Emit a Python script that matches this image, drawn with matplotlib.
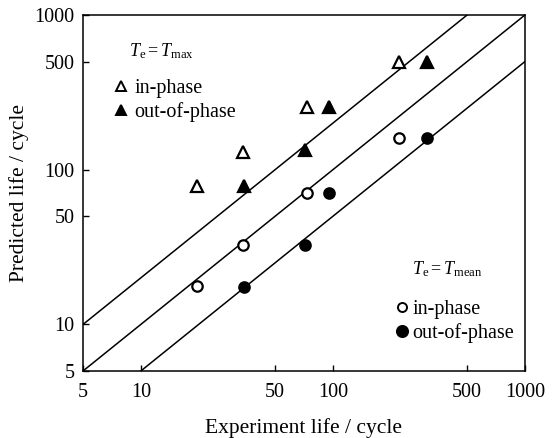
"""
Predicted vs. experiment life (log-log) with factor-of-2 scatter bands.
"""
import numpy as np
import matplotlib
matplotlib.use("Agg")
import matplotlib.pyplot as plt
from matplotlib.lines import Line2D

# experiment lives (x) and predicted lives (y)
exp_in = [19.5, 34, 73, 220]
exp_out = [34.5, 72, 95, 310]
pred_max_in = [79, 130, 255, 497]
pred_max_out = [79, 134, 255, 497]
pred_mean_in = [17.7, 32.6, 70.7, 160]
pred_mean_out = [17.5, 32.6, 70.7, 160]

band_factors = [2.0, 1.0, 0.5]   # y = k * x
axis_lim = [5, 1000]
ticks = [5, 10, 50, 100, 500, 1000]

plt.rcParams["font.family"] = ["Liberation Serif", "DejaVu Serif"]
plt.rcParams["mathtext.fontset"] = "custom"
plt.rcParams["mathtext.rm"] = "Liberation Serif"
plt.rcParams["mathtext.it"] = "Liberation Serif:italic"

fig = plt.figure(figsize=(5.52, 4.38), dpi=100)
ax = fig.add_axes([0.1504, 0.153, 0.8006, 0.8128])

xs = np.array(axis_lim, dtype=float)
for k in band_factors:
    ax.plot(xs, k * xs, color="black", linewidth=1.1)

ms_tri, ms_cir, mew = 8, 7.5, 1.6
ax.plot(exp_in, pred_max_in, linestyle="none", marker="^", ms=ms_tri,
        mfc="white", mec="black", mew=mew)
ax.plot(exp_out, pred_max_out, linestyle="none", marker="^", ms=ms_tri,
        mfc="black", mec="black", mew=mew)
ax.plot(exp_in, pred_mean_in, linestyle="none", marker="o", ms=ms_cir,
        mfc="white", mec="black", mew=mew)
ax.plot(exp_out, pred_mean_out, linestyle="none", marker="o", ms=ms_cir,
        mfc="black", mec="black", mew=mew)

ax.set_xscale("log")
ax.set_yscale("log")
ax.set_xlim(axis_lim)
ax.set_ylim(axis_lim)
ax.set_xticks(ticks)
ax.set_yticks(ticks)
ax.set_xticklabels([str(t) for t in ticks])
ax.set_yticklabels([str(t) for t in ticks])
ax.minorticks_off()
ax.tick_params(direction="in", length=4, width=1, labelsize=14.5)
ax.tick_params(axis="x", pad=9)
ax.tick_params(axis="y", pad=6)
for sp in ax.spines.values():
    sp.set_linewidth(1.1)

ax.set_xlabel("Experiment life / cycle", fontsize=15.5, labelpad=11)
ax.set_ylabel("Predicted life / cycle", fontsize=15.5, labelpad=4)

ax.text(0.105, 0.897, r"$T_{\rm e}=T_{\rm max}$", transform=ax.transAxes,
        fontsize=13, va="center", ha="left")
ax.text(0.745, 0.285, r"$T_{\rm e}=T_{\rm mean}$", transform=ax.transAxes,
        fontsize=13, va="center", ha="left")

h_max = [Line2D([], [], linestyle="none", marker="^", ms=7, mfc="white", mec="black", mew=1.4),
         Line2D([], [], linestyle="none", marker="^", ms=7, mfc="black", mec="black", mew=1.4)]
leg1 = ax.legend(h_max, ["in-phase", "out-of-phase"], loc="upper left",
                 bbox_to_anchor=(0.055, 0.843), frameon=False, fontsize=14.5,
                 handlelength=0.6, handletextpad=0.35, labelspacing=0.2,
                 borderaxespad=0)
ax.add_artist(leg1)
h_mean = [Line2D([], [], linestyle="none", marker="o", ms=6.5, mfc="white", mec="black", mew=1.4),
          Line2D([], [], linestyle="none", marker="o", ms=8, mfc="black", mec="black", mew=1.4)]
ax.legend(h_mean, ["in-phase", "out-of-phase"], loc="upper left",
          bbox_to_anchor=(0.69, 0.222), frameon=False, fontsize=14.5,
          handlelength=0.6, handletextpad=0.2, labelspacing=0.2,
          borderaxespad=0)

fig.savefig("out.png", dpi=100)
